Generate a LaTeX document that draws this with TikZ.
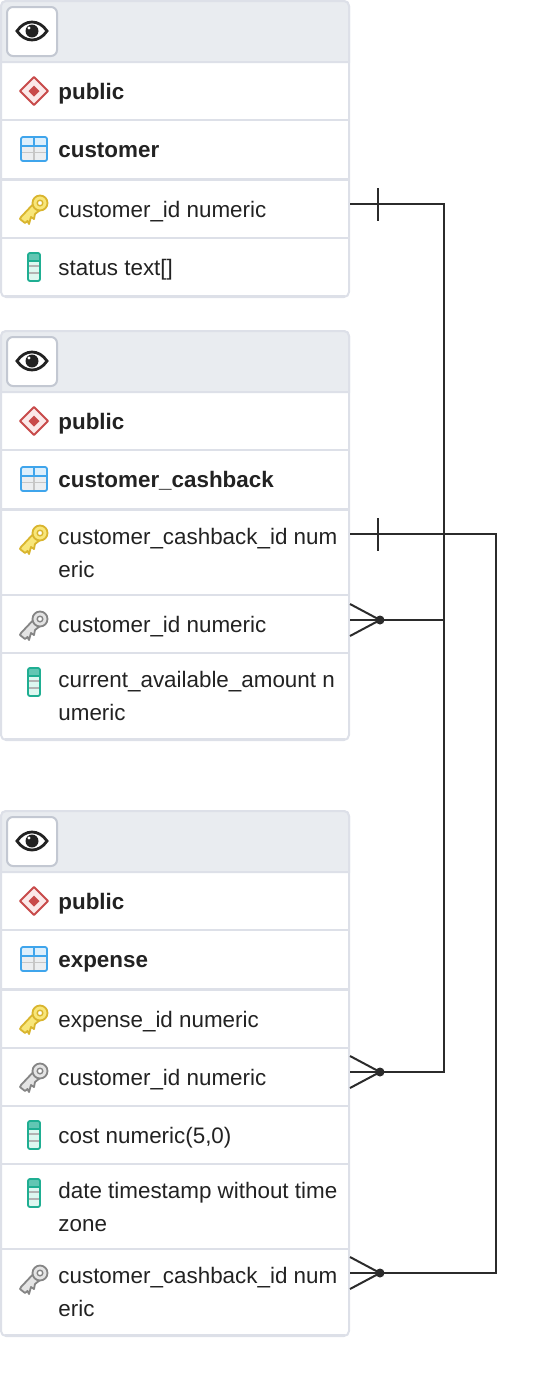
\documentclass[tikz,border=0pt]{standalone}
\usepackage{fontspec}
\setmainfont{Liberation Sans}
\definecolor{bord}{HTML}{DDE0E8}
\definecolor{head}{HTML}{E9ECF0}
\definecolor{ink}{HTML}{222222}
\definecolor{ln}{HTML}{2B2B2B}
\definecolor{btn}{HTML}{C3C8D2}
\definecolor{sred}{HTML}{C84B4B}
\definecolor{sredf}{HTML}{FBE9E9}
\definecolor{tblue}{HTML}{3FA5EC}
\definecolor{tbluef}{HTML}{DDEFFC}
\definecolor{tgray}{HTML}{ECEEF0}
\definecolor{kyel}{HTML}{D9B52E}
\definecolor{kyelf}{HTML}{F8E67A}
\definecolor{kgra}{HTML}{858585}
\definecolor{kgraf}{HTML}{E4E4E4}
\definecolor{cgrn}{HTML}{1FAE92}
\definecolor{cgrnf}{HTML}{DDF7F0}
\tikzset{
  x=0.5pt,y=-0.5pt,
  txt/.style={anchor=base west,inner sep=0,font=\fontsize{11.2}{16.5}\selectfont,text=ink,align=left},
  btxt/.style={txt,font=\fontsize{11.2}{16.5}\selectfont\bfseries},
  conn/.style={draw=ln,line width=1pt},
  tick/.style={draw=ln,line width=1pt},
  sep/.style={draw=bord,line width=1pt},
  pics/eye/.style={code={
    \fill[white,draw=btn,line width=1pt,rounded corners=3pt] (-25,-24) rectangle (25,25);
    \draw[ink,line width=1.4pt,fill=white] (-15,0) .. controls (-7,-12) and (7,-12) .. (15,0) .. controls (7,12) and (-7,12) .. (-15,0) -- cycle;
    \fill[ink] (0,0) circle (6.5);
    \fill[white] (-3,-3) circle (1.6);
  }},
  pics/schemaicon/.style={code={
    \draw[sred,line width=0.9pt,fill=sredf,line join=round] (0,-14) -- (14,0) -- (0,14) -- (-14,0) -- cycle;
    \fill[sred] (0,-5.5) -- (5.5,0) -- (0,5.5) -- (-5.5,0) -- cycle;
  }},
  pics/tableicon/.style={code={
    \fill[tgray,rounded corners=1pt] (-13,-12) rectangle (13,12);
    \fill[tbluef] (-13,-12) rectangle (13,-3);
    \draw[gray!45,line width=0.6pt] (-13,3.5) -- (13,3.5) (0,-3) -- (0,12);
    \draw[tblue,line width=0.6pt] (0,-12) -- (0,-3) (-13,-3) -- (13,-3);
    \draw[tblue,line width=0.9pt,rounded corners=1pt] (-13,-12) rectangle (13,12);
  }},
  pics/keyicon/.style n args={2}{code={
    \draw[#1,line width=0.9pt,fill=#2,line join=round]
      (4,-9) -- (-12,8) -- (-13,10) -- (-8,14) -- (-5.5,12) -- (-4,15) -- (-2,8) -- (1,10) -- (2,5) -- (7,1) -- cycle;
    \draw[#1,line width=0.9pt,fill=#2] (7,-6) circle (7.5);
    \draw[#1,line width=0.7pt,fill=white] (7,-6) circle (2.8);
  }},
  pics/colicon/.style={code={
    \fill[cgrnf,rounded corners=1pt] (-6,-14) rectangle (6,14);
    \fill[cgrn!70] (-6,-14) rectangle (6,-6);
    \draw[gray!60,line width=0.6pt] (-6,-1) -- (6,-1) (-6,6) -- (6,6);
    \draw[cgrn,line width=0.6pt] (-6,-6) -- (6,-6);
    \draw[cgrn,line width=0.9pt,rounded corners=1pt] (-6,-14) rectangle (6,14);
  }},
  pics/fkkey/.style={code={\pic{keyicon={kgra}{kgraf}};}},
  pics/pkkey/.style={code={\pic{keyicon={kyel}{kyelf}};}}
}
\newcommand{\tablebox}[3]{% name, top, bottom; header height 61
  \draw[draw=bord,line width=1pt,fill=white,rounded corners=2.5pt] (1,#2) rectangle (349,#3);
  \draw[draw=bord,line width=1pt,fill=head] (1,#2+61) [rounded corners=2.5pt] -- (1,#2) -- (349,#2) [sharp corners] -- (349,#2+61) -- cycle;
  \draw[bord,line width=1.5pt] (5,#3-0.5) -- (345,#3-0.5);
  \pic at (32,#2+30) {eye};
}
\newcommand{\rowsep}[1]{\draw[sep] (1,#1) -- (349,#1);}
\newcommand{\thicksep}[1]{\draw[bord,line width=1.8pt] (1,#1) -- (349,#1);}
\begin{document}
\begin{tikzpicture}
\useasboundingbox (0,0) rectangle (540,1382);
% table 1
\tablebox{t1}{1}{297}
\rowsep{120}\thicksep{179.5}\rowsep{238}
\pic at (34,91) {schemaicon};
\node[btxt] (t1s) at (58,99) {public};
\pic at (34,149) {tableicon};
\node[btxt] (t1n) at (58,157) {customer};
\pic at (33,209) {pkkey};
\node[txt] (t1a) at (58,217) {customer\_id numeric};
\pic at (34,267) {colicon};
\node[txt] (t1b) at (58,275) {status text[]};
% table 2
\tablebox{t2}{331}{740}
\rowsep{450}\thicksep{509.5}\rowsep{595}\rowsep{653}
\pic at (34,421) {schemaicon};
\node[btxt] (t2s) at (58,429) {public};
\pic at (34,479) {tableicon};
\node[btxt] (t2n) at (58,487) {customer\_cashback};
\pic at (33,539) {pkkey};
\node[txt] (t2a) at (58,544) {customer\_cashback\_id num};
\node[txt] (t2a2) at (58,577) {eric};
\pic at (33,625) {fkkey};
\node[txt] (t2b) at (58,632) {customer\_id numeric};
\pic at (34,682) {colicon};
\node[txt] (t2c) at (58,687) {current\_available\_amount n};
\node[txt] (t2c2) at (58,720) {umeric};
% table 3
\tablebox{t3}{811}{1336}
\rowsep{930}\thicksep{989.5}\rowsep{1048}\rowsep{1106}\rowsep{1164}\rowsep{1249}
\pic at (34,901) {schemaicon};
\node[btxt] (t3s) at (58,909) {public};
\pic at (34,959) {tableicon};
\node[btxt] (t3n) at (58,967) {expense};
\pic at (33,1019) {pkkey};
\node[txt] (t3a) at (58,1027) {expense\_id numeric};
\pic at (33,1077) {fkkey};
\node[txt] (t3b) at (58,1085) {customer\_id numeric};
\pic at (34,1135) {colicon};
\node[txt] (t3c) at (58,1143) {cost numeric(5,0)};
\pic at (34,1193) {colicon};
\node[txt] (t3d) at (58,1198) {date timestamp without time};
\node[txt] (t3d2) at (58,1231) {zone};
\pic at (33,1279) {fkkey};
\node[txt] (t3e) at (58,1283) {customer\_cashback\_id num};
\node[txt] (t3e2) at (58,1316) {eric};
% connectors
\coordinate (c1) at (350,204);
\coordinate (c1b) at (444,204);
\coordinate (c2) at (350,620);
\coordinate (c2b) at (444,620);
\coordinate (c3) at (350,1072);
\coordinate (c3b) at (444,1072);
\coordinate (d1) at (350,534);
\coordinate (d1b) at (496,534);
\coordinate (d2) at (350,1273);
\coordinate (d2b) at (496,1273);
\draw[conn] (c1) -- (c1b) -- (c3b) -- (c3);
\draw[conn] (c2) -- (c2b);
\draw[conn] (d1) -- (d1b) -- (d2b) -- (d2);
\draw[tick] (378,188) -- (378,221);
\draw[tick] (378,518) -- (378,551);
\foreach \y in {620,1072,1273}{
  \draw[conn] (350,\y-16) -- (380,\y) -- (350,\y+16);
  \fill[ln] (380,\y) circle (4.5);
}
\end{tikzpicture}
\end{document}
